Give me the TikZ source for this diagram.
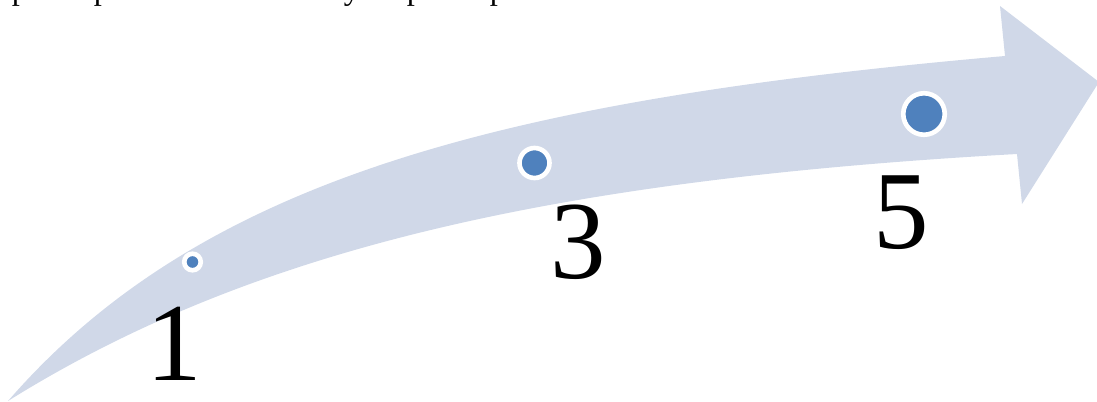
\documentclass[tikz,border=0pt]{standalone}
\usepackage{fontspec}
\setmainfont{Liberation Serif}
\usepackage{tikz}
\usetikzlibrary{positioning}
\definecolor{bandgray}{RGB}{208,216,232}
\definecolor{dotblue}{RGB}{79,129,189}
\tikzset{
  band/.style   = {fill=bandgray, draw=none},
  dot/.style    = {circle, fill=dotblue, draw=white, line width=3.3pt, inner sep=0pt},
  numlab/.style = {anchor=base, inner sep=0pt, font=\fontsize{79}{79}\selectfont},
  cutlet/.style = {anchor=base, inner sep=0pt, font=\fontsize{23}{23}\selectfont},
}
\begin{document}
\begin{tikzpicture}[x=0.025cm, y=-0.025cm]
  \useasboundingbox (0,0) rectangle (1097,401);
  % curved arrow
  \fill[band] (8,401) .. controls (200,180) and (500,100) .. (1005,56)
    -- (1000,6) -- (1099,82) -- (1022,204) -- (1017,154)
    .. controls (550,180) and (250,250) .. (8,401) -- cycle;
  % dots on the band
  \node[dot, minimum size=0.4125cm] (dot1) at (192.5,262) {};
  \node[dot, minimum size=0.75cm]   (dot3) at (534.5,163) {};
  \node[dot, minimum size=1.0375cm] (dot5) at (924,114) {};
  % numbers
  \node[numlab] (lab1) at (174,380) {1};
  \node[numlab] (lab3) at (578,278) {3};
  \node[numlab] (lab5) at (901,248) {5};
  % cut-off line of text at the top
  \foreach \x/\c [count=\i] in {20/p, 102/p, 352/y, 415/p, 498/p}
    \node[cutlet] (cut\i) at (\x,-0.5) {\c};
\end{tikzpicture}
\end{document}
